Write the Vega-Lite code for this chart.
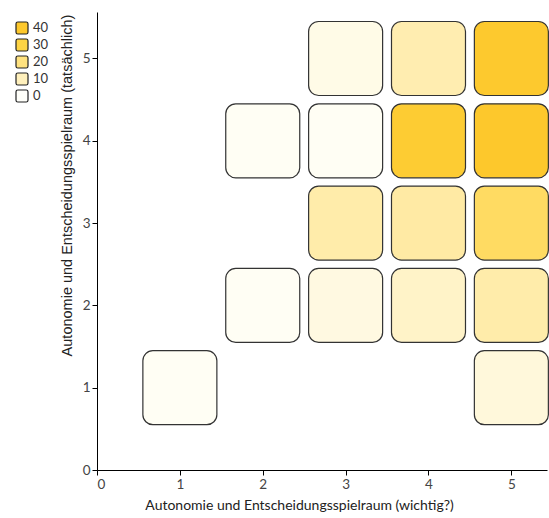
{
  "$schema": "https://vega.github.io/schema/vega-lite/v6.json",
  "autosize": {"type": "none"},
  "padding": {"left": 97, "top": 12, "right": 2, "bottom": 48},
  "width": 450,
  "height": 458,
  "background": "white",
  "config": {"view": {"stroke": null}},
  "data": {
    "values": [
      {"wichtig": 1, "tatsaechlich": 1, "anzahl": 1},
      {"wichtig": 2, "tatsaechlich": 2, "anzahl": 1},
      {"wichtig": 2, "tatsaechlich": 4, "anzahl": 1},
      {"wichtig": 3, "tatsaechlich": 2, "anzahl": 4},
      {"wichtig": 3, "tatsaechlich": 3, "anzahl": 13},
      {"wichtig": 3, "tatsaechlich": 4, "anzahl": 1},
      {"wichtig": 3, "tatsaechlich": 5, "anzahl": 3},
      {"wichtig": 4, "tatsaechlich": 2, "anzahl": 8},
      {"wichtig": 4, "tatsaechlich": 3, "anzahl": 14},
      {"wichtig": 4, "tatsaechlich": 4, "anzahl": 37},
      {"wichtig": 4, "tatsaechlich": 5, "anzahl": 12},
      {"wichtig": 5, "tatsaechlich": 1, "anzahl": 5},
      {"wichtig": 5, "tatsaechlich": 2, "anzahl": 13},
      {"wichtig": 5, "tatsaechlich": 3, "anzahl": 25},
      {"wichtig": 5, "tatsaechlich": 4, "anzahl": 40},
      {"wichtig": 5, "tatsaechlich": 5, "anzahl": 39}
    ]
  },
  "mark": {"type": "rect", "width": 74, "height": 74, "cornerRadius": 10, "stroke": "#333333", "strokeWidth": 1.2},
  "encoding": {
    "x": {
      "field": "wichtig", "type": "quantitative",
      "scale": {"domain": [0, 5.43], "nice": false, "zero": true},
      "axis": {
        "title": "Autonomie und Entscheidungsspielraum (wichtig?)",
        "values": [0, 1, 2, 3, 4, 5], "grid": false,
        "domainColor": "#000000", "tickColor": "#000000", "tickSize": 5,
        "labelFont": "Lato", "labelFontSize": 13.5, "labelColor": "#444444",
        "titleFont": "Lato", "titleFontSize": 14, "titleFontWeight": "normal", "titleColor": "#222222",
        "titleX": 202, "titleAlign": "center", "titlePadding": 8
      }
    },
    "y": {
      "field": "tatsaechlich", "type": "quantitative",
      "scale": {"domain": [0, 5.565], "nice": false, "zero": true},
      "axis": {
        "title": "Autonomie und Entscheidungsspielraum (tatsächlich)",
        "values": [0, 1, 2, 3, 4, 5], "grid": false,
        "domainColor": "#000000", "tickColor": "#000000", "tickSize": 5,
        "labelFont": "Lato", "labelFontSize": 13.5, "labelColor": "#444444",
        "titleFont": "Liberation Sans", "titleFontSize": 14.5, "titleFontWeight": "normal", "titleColor": "#222222",
        "titleX": -23, "titleY": 173, "titleAlign": "center"
      }
    },
    "color": {
      "field": "anzahl", "type": "quantitative",
      "scale": {"domain": [0, 10, 20, 30, 40], "range": ["#fffffa", "#fff0bc", "#ffe27f", "#fed444", "#fdc82c"], "interpolate": "rgb"},
      "legend": {
        "title": null, "type": "symbol", "values": [40, 30, 20, 10, 0],
        "orient": "none", "legendX": -82, "legendY": 9,
        "symbolType": "M-0.7,-1H0.7Q1,-1,1,-0.7V0.7Q1,1,0.7,1H-0.7Q-1,1,-1,0.7V-0.7Q-1,-1,-0.7,-1Z",
        "symbolSize": 144, "symbolStrokeColor": "#222222", "symbolStrokeWidth": 1.2,
        "labelFont": "Lato", "labelFontSize": 13, "labelColor": "#333333",
        "rowPadding": -1, "labelOffset": 4
      }
    }
  }
}
